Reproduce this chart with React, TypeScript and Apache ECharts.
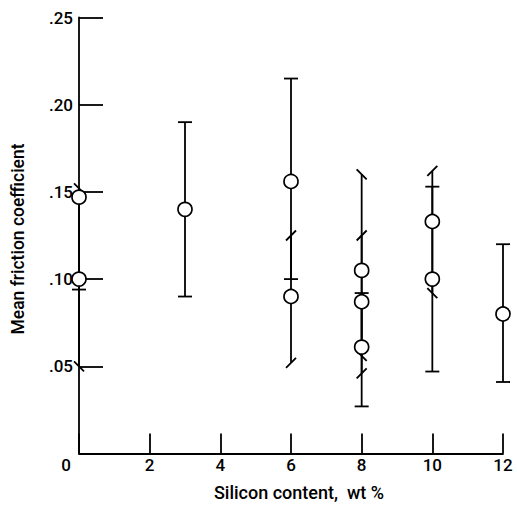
import React, { useEffect, useRef } from "react";
import * as echarts from "echarts";

// Data
const pointX = [0, 0, 3, 6, 6, 8, 8, 8, 10, 10, 12];
const pointY = [0.147, 0.1, 0.14, 0.156, 0.09, 0.105, 0.087, 0.061, 0.133, 0.1, 0.08];
const barLow = [0.05, 0.094, 0.09, 0.1, 0.052, 0.056, 0.046, 0.027, 0.092, 0.047, 0.041];
const barHigh = [0.152, 0.15, 0.19, 0.215, 0.125, 0.16, 0.125, 0.092, 0.162, 0.153, 0.12];
// cap codes: 0 none, 1 T-bar, 2 "/" flag, 3 "\" flag
const capLow = [3, 1, 1, 1, 2, 3, 2, 1, 3, 1, 1];
const capHigh = [3, 0, 1, 1, 2, 3, 2, 1, 2, 1, 1];

const xTicks = [0, 2, 4, 6, 8, 10, 12];
const yTicks = [0.05, 0.1, 0.15, 0.2, 0.25];

const FONT = "Roboto, 'Liberation Sans', sans-serif";

export default function App() {
  const ref = useRef<HTMLDivElement>(null);
  useEffect(() => {
    if (!ref.current) return;
    const chart = echarts.init(ref.current, undefined, { renderer: "svg" });
    const errData = pointX.map((x, i) => [x, barLow[i], barHigh[i], capLow[i], capHigh[i]]);
    const scatterData = pointX.map((x, i) => [x, pointY[i]]);

    const cap = (code: number, cx: number, cy: number) => {
      const s = { stroke: "#000", lineWidth: 1.8 };
      if (code === 1) return { type: "line", shape: { x1: cx - 7, y1: cy, x2: cx + 7, y2: cy }, style: s };
      if (code === 2) return { type: "line", shape: { x1: cx - 5, y1: cy + 5, x2: cx + 5, y2: cy - 5 }, style: s };
      if (code === 3) return { type: "line", shape: { x1: cx - 5, y1: cy - 5, x2: cx + 5, y2: cy + 5 }, style: s };
      return null;
    };

    chart.setOption({
      animation: false,
      backgroundColor: "#fff",
      grid: { left: 79, right: 14, top: 17.5, bottom: 52.5, containLabel: false },
      xAxis: {
        type: "value",
        min: 0,
        max: 12,
        interval: 2,
        axisLine: { show: true, onZero: false, lineStyle: { color: "#000", width: 1.8 } },
        axisTick: { show: true, inside: true, length: 20, lineStyle: { color: "#000", width: 1.8 } },
        splitLine: { show: false },
        axisLabel: {
          color: "#000",
          fontFamily: FONT,
          fontSize: 17,
          fontWeight: 500,
          margin: 3,
          formatter: (v: number) => (xTicks.includes(v) ? (v === 0 ? "{z|0}" : String(v)) : ""),
          rich: { z: { color: "#000", fontFamily: FONT, fontSize: 17, fontWeight: 500, padding: [0, 26, 0, 0] } },
        },
      },
      yAxis: {
        type: "value",
        min: 0,
        max: 0.25,
        interval: 0.05,
        axisLine: { show: true, onZero: false, lineStyle: { color: "#000", width: 1.8 } },
        axisTick: { show: true, inside: true, length: 24, lineStyle: { color: "#000", width: 1.8 } },
        splitLine: { show: false },
        axisLabel: {
          color: "#000",
          fontFamily: FONT,
          fontSize: 17,
          fontWeight: 500,
          margin: 6,
          formatter: (v: number) => {
            const t = yTicks.find((k) => Math.abs(k - v) < 1e-9);
            return t === undefined ? "" : t.toFixed(2).replace(/^0/, "");
          },
        },
      },
      graphic: [
        {
          type: "text",
          x: 299,
          y: 492,
          style: {
            text: "Silicon content,  wt %",
            fill: "#000",
            font: `500 18px ${FONT}`,
            textAlign: "center",
            textVerticalAlign: "middle",
          },
        },
        {
          type: "text",
          x: 18,
          y: 239,
          rotation: Math.PI / 2,
          style: {
            text: "Mean friction coefficient",
            fill: "#000",
            font: `500 17.5px ${FONT}`,
            textAlign: "center",
            textVerticalAlign: "middle",
          },
        },
      ],
      series: [
        {
          type: "custom",
          data: errData,
          z: 2,
          clip: false,
          renderItem: (params: any, api: any) => {
            const x = api.value(0);
            const lo = api.coord([x, api.value(1)]);
            const hi = api.coord([x, api.value(2)]);
            const children: any[] = [
              { type: "line", shape: { x1: lo[0], y1: lo[1], x2: hi[0], y2: hi[1] }, style: { stroke: "#000", lineWidth: 1.8 } },
            ];
            const c1 = cap(api.value(3), lo[0], lo[1]);
            const c2 = cap(api.value(4), hi[0], hi[1]);
            if (c1) children.push(c1);
            if (c2) children.push(c2);
            return { type: "group", children };
          },
        },
        {
          type: "scatter",
          data: scatterData,
          z: 3,
          symbol: "circle",
          symbolSize: 14,
          clip: false,
          itemStyle: { color: "#fff", borderColor: "#000", borderWidth: 1.7, opacity: 1 },
        },
      ],
    });
    return () => chart.dispose();
  }, []);
  return <div ref={ref} style={{ position: "fixed", left: 0, top: 0, width: 517, height: 506 }} />;
}
